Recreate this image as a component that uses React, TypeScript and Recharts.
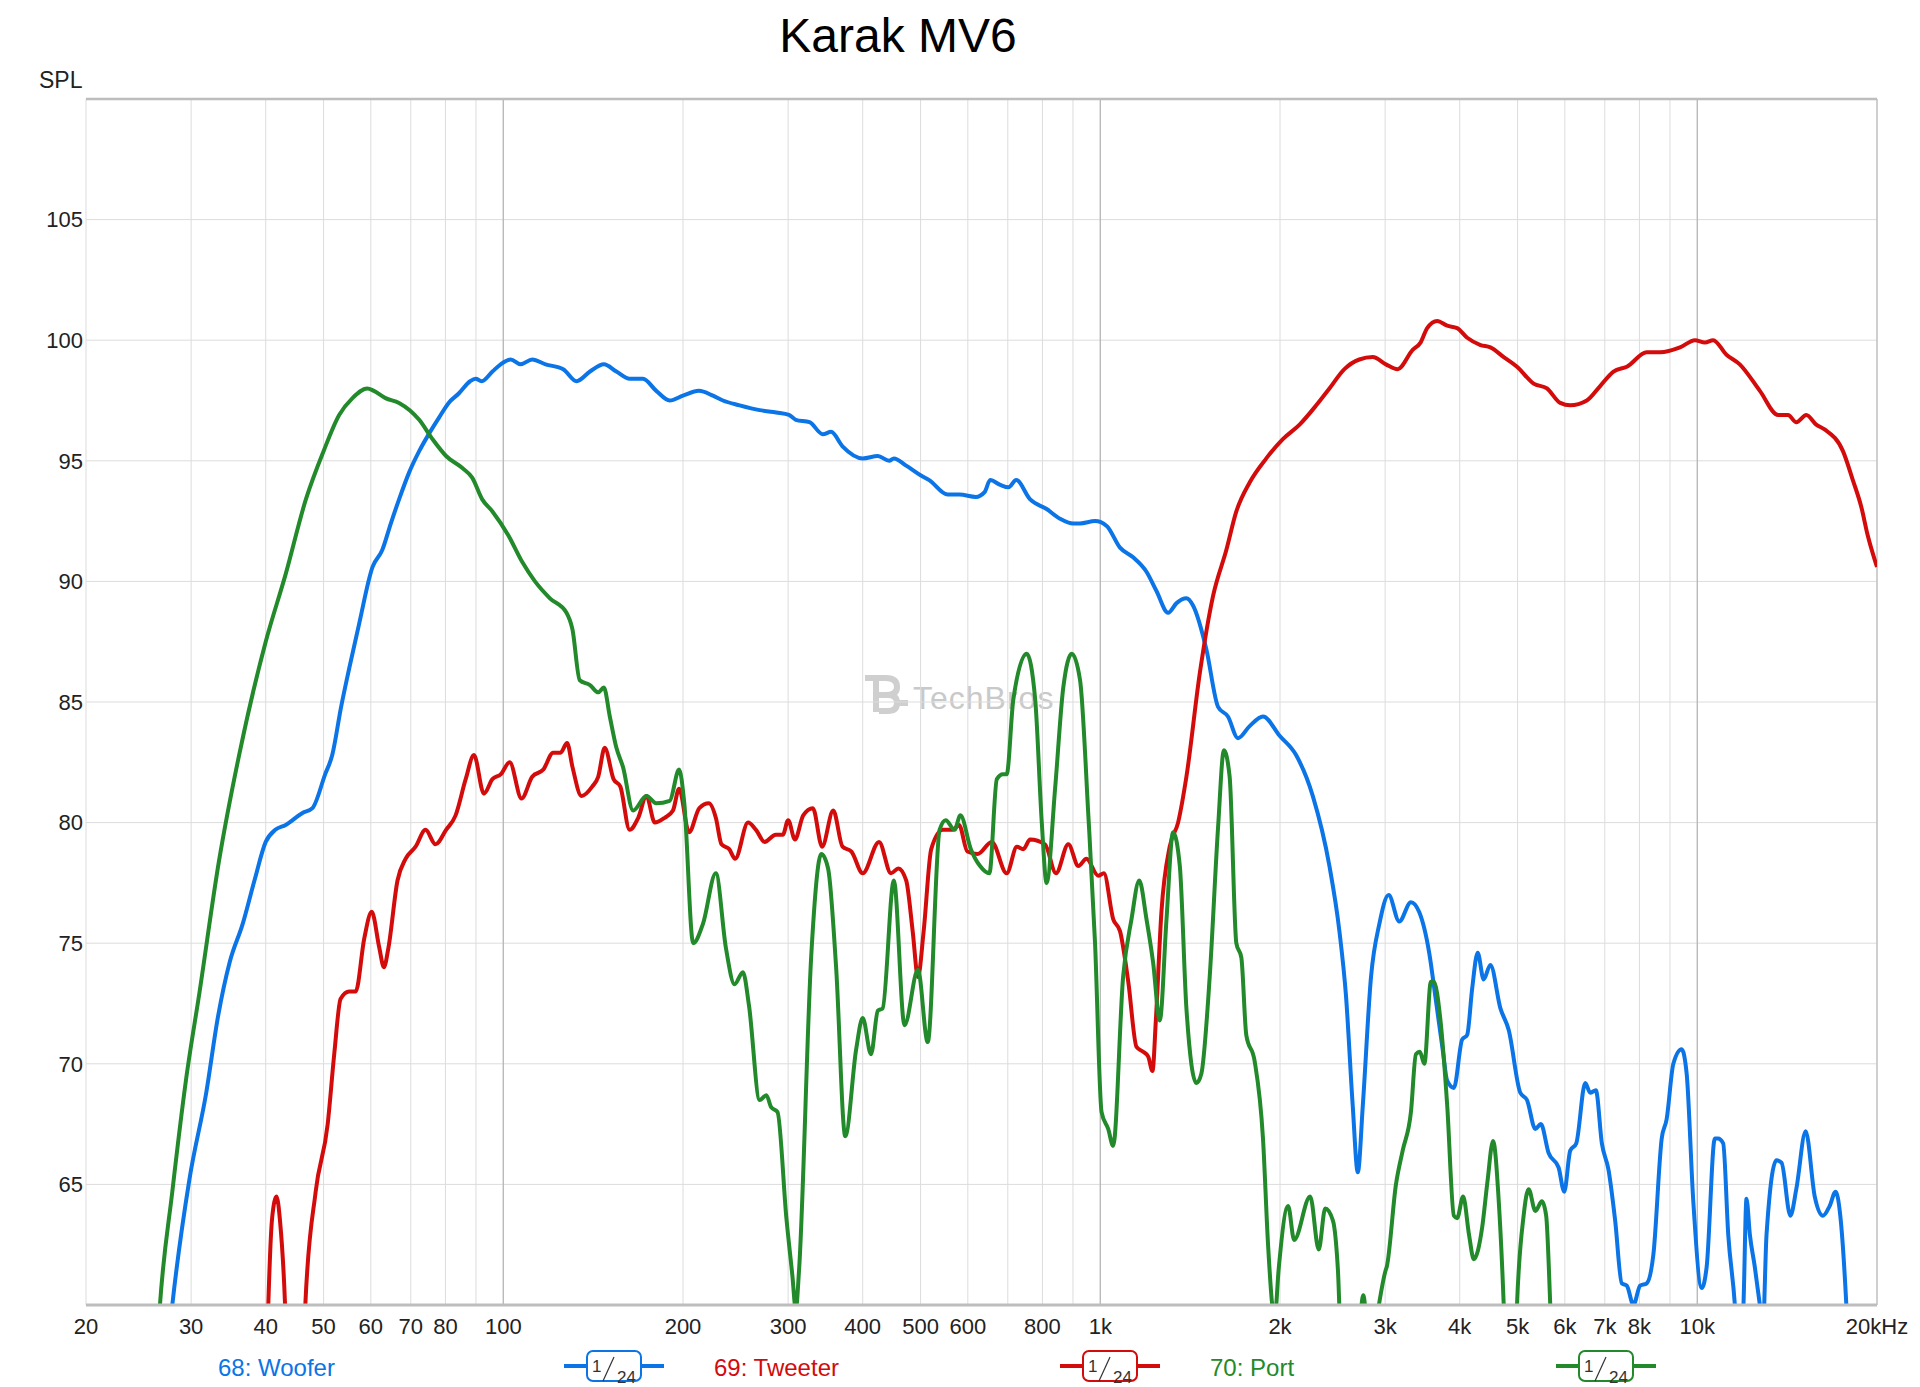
import { LineChart, Line, XAxis, YAxis, CartesianGrid, ReferenceLine } from 'recharts';

// frequency (Hz), SPL (dB)
const WOOFER: [number, number][] = [
  [26.9, 56], [27.9, 60], [29.8, 65.2], [31.8, 68.8], [33.3, 72.0], [34.8, 74.2], [36.6, 75.8], [38.3, 77.6],
  [40, 79.2], [41.5, 79.7], [43.2, 79.9], [46.1, 80.4], [47.9, 80.6], [50.3, 82.0], [51.7, 82.8], [53.5, 84.8],
  [55.2, 86.4], [57.3, 88.2], [60.4, 90.6], [62.7, 91.3], [64.8, 92.4], [66.9, 93.4], [69.5, 94.5], [72.3, 95.4],
  [75, 96.1], [78.1, 96.8], [81, 97.4], [84.3, 97.8], [88, 98.3], [89.9, 98.4], [92, 98.3], [95.9, 98.7],
  [99, 99.0], [102.9, 99.2], [106.9, 99.0], [111.8, 99.2], [117.7, 99.0], [126, 98.8], [132.7, 98.3],
  [139.7, 98.7], [147.4, 99.0], [154.7, 98.7], [162.8, 98.4], [171.4, 98.4], [180.4, 97.9], [190, 97.5],
  [200, 97.7], [212.7, 97.9], [224.5, 97.7], [233.3, 97.5], [248.8, 97.3], [268.8, 97.1], [286.6, 97.0],
  [301, 96.9], [309, 96.7], [325.8, 96.6], [343, 96.1], [354, 96.2], [370, 95.6], [400, 95.1], [424, 95.2],
  [443, 95.0], [451, 95.1], [473, 94.8], [500, 94.4], [517, 94.2], [555, 93.6], [581, 93.6], [619, 93.5],
  [640, 93.7], [654, 94.2], [680, 94.0], [702, 93.9], [723, 94.2], [763, 93.4], [813, 93.0], [856, 92.6],
  [901, 92.4], [925, 92.4], [980, 92.5], [1025, 92.3], [1079, 91.4], [1135, 91.0], [1195, 90.4], [1242, 89.6],
  [1299, 88.7], [1342, 89.1], [1394, 89.3], [1430, 89.0], [1505, 87.2], [1575, 84.8], [1636, 84.4],
  [1701, 83.5], [1779, 84.0], [1873, 84.4], [1997, 83.6], [2128, 82.8], [2270, 81.1], [2420, 78.2],
  [2515, 75.5], [2580, 72.8], [2647, 68.3], [2700, 65.5], [2753, 68.3], [2841, 73.6], [2934, 75.8],
  [3041, 77.0], [3168, 75.9], [3314, 76.7], [3420, 76.3], [3556, 74.6], [3650, 72.6], [3750, 70.5],
  [3811, 69.3], [3911, 69.0], [4037, 71.0], [4117, 71.2], [4196, 73.1], [4287, 74.6], [4387, 73.5],
  [4502, 74.1], [4680, 72.3], [4832, 71.4], [5053, 68.8], [5185, 68.5], [5355, 67.3], [5470, 67.5],
  [5636, 66.3], [5857, 65.7], [5986, 64.7], [6126, 66.4], [6270, 66.7], [6491, 69.2], [6617, 68.8],
  [6763, 68.9], [6921, 66.7], [7101, 65.6], [7285, 63.5], [7472, 60.9], [7621, 60.8], [7817, 60.0],
  [8021, 60.8], [8229, 60.9], [8443, 62.1], [8718, 66.9], [8885, 67.7], [9118, 70.0], [9415, 70.6],
  [9598, 69.6], [9847, 64.3], [10170, 60.7], [10370, 61.6], [10700, 66.9], [10830, 66.9], [11050, 66.7],
  [11270, 62.9], [11560, 60], [11750, 57], [11950, 60], [12090, 64.4], [12250, 62.9], [12480, 61.6],
  [12730, 60], [12880, 59], [13060, 62.9], [13570, 66.0], [13840, 65.9], [14320, 63.7], [14650, 64.8],
  [15190, 67.2], [15730, 64.5], [16240, 63.7], [16660, 64.1], [17050, 64.7], [17360, 63.7], [17770, 60],
  [18000, 57],
];

const TWEETER: [number, number][] = [
  [40.0, 56], [40.4, 60], [41.0, 63.6], [41.7, 64.5], [42.3, 63.4], [43.1, 60], [43.6, 56], [46.2, 56],
  [46.6, 60], [48.5, 64.7], [50.8, 67.5], [52.1, 70.4], [53.4, 72.7], [55.2, 73.0], [56.6, 73.0], [58.5, 75.2],
  [60.2, 76.3], [62, 74.8], [63.1, 74.0], [64.2, 74.8], [66.5, 77.6], [68.6, 78.5], [71.3, 79.0], [74.1, 79.7],
  [77.0, 79.1], [80.2, 79.7], [83.2, 80.3], [86.5, 81.8], [89.3, 82.8], [92.8, 81.2], [95.9, 81.8], [99, 82.0],
  [102.5, 82.5], [107.3, 81.0], [111.8, 81.9], [116.7, 82.2], [121.2, 82.9], [124.7, 82.9], [127.9, 83.3],
  [130.6, 82.3], [135.2, 81.1], [141, 81.5], [144.2, 81.9], [147.9, 83.1], [153, 81.8], [157, 81.5],
  [162.8, 79.7], [168.3, 80.2], [173.7, 81.1], [179.4, 80.0], [186.4, 80.2], [192.4, 80.5], [197, 81.4],
  [204.7, 79.6], [213, 80.6], [221, 80.8], [227, 80.2], [232, 79.1], [239, 78.9], [244.6, 78.5], [257, 80.0],
  [265, 79.7], [274, 79.2], [286, 79.5], [294, 79.5], [300, 80.1], [308, 79.3], [318, 80.3], [330, 80.6],
  [342, 79.0], [357, 80.5], [370, 79.0], [383, 78.8], [400, 77.9], [426, 79.2], [446, 77.9], [459, 78.1],
  [473, 77.6], [485, 75.5], [495, 73.6], [506, 75.5], [521, 78.9], [545, 79.7], [566, 79.7], [580, 79.9],
  [599, 78.8], [623, 78.7], [658, 79.2], [697, 77.9], [725, 79.0], [743, 78.9], [763, 79.3], [808, 79.1],
  [843, 77.9], [884, 79.1], [919, 78.2], [948, 78.5], [992, 77.8], [1014, 77.9], [1051, 76.0], [1079, 75.5],
  [1114, 73.4], [1150, 70.7], [1180, 70.5], [1203, 70.3], [1223, 69.7], [1239, 71.8], [1266, 76.3],
  [1307, 79.0], [1350, 80.0], [1394, 81.9], [1468, 86.2], [1545, 89.4], [1626, 91.3], [1690, 92.9],
  [1779, 94.1], [1897, 95.1], [2022, 95.9], [2157, 96.5], [2300, 97.3], [2420, 98.0], [2564, 98.8],
  [2716, 99.2], [2860, 99.3], [3009, 99.0], [3148, 98.8], [3336, 99.6], [3439, 99.9], [3528, 100.5],
  [3667, 100.8], [3811, 100.6], [3960, 100.5], [4117, 100.1], [4334, 99.8], [4502, 99.7], [4740, 99.3],
  [4989, 98.9], [5320, 98.2], [5600, 98.0], [5895, 97.4], [6126, 97.3], [6531, 97.5], [6876, 98.1],
  [7239, 98.7], [7621, 98.9], [8229, 99.5], [8662, 99.5], [9355, 99.7], [9911, 100.0], [10299, 99.9],
  [10630, 100.0], [11190, 99.4], [11780, 99.0], [12730, 97.9], [13660, 96.9], [14190, 96.9], [14650, 96.6],
  [15230, 96.9], [15820, 96.5], [16340, 96.3], [17540, 95.4], [18220, 94.2], [18820, 93.1], [19300, 91.9],
  [19880, 90.8], [20000, 90.6],
];

const PORT: [number, number][] = [
  [26.0, 56], [26.6, 60], [27.9, 64.7], [29.4, 69.3], [31.0, 73.0], [33.4, 78.4], [36.1, 82.8], [40, 87.5],
  [43.2, 90.3], [46.7, 93.4], [50, 95.4], [53.1, 96.9], [55.9, 97.6], [59.2, 98.0], [60.7, 97.9], [63.5, 97.6],
  [66.9, 97.4], [72.3, 96.7], [76.1, 95.9], [80.2, 95.2], [85.4, 94.7], [88.7, 94.3], [92.2, 93.4],
  [95.9, 92.9], [102, 91.9], [107.6, 90.8], [113, 90.0], [119.7, 89.3], [127.6, 88.7], [130.6, 88.0],
  [134.3, 85.9], [139.7, 85.7], [144.2, 85.4], [147.4, 85.6], [150.8, 84.4], [154.7, 83.1], [158.7, 82.3],
  [165, 80.5], [173.7, 81.1], [180.4, 80.8], [190, 80.9], [197, 82.2], [201, 80.8], [208, 75.0], [216, 75.8],
  [227, 77.9], [236, 74.8], [244, 73.3], [252, 73.8], [258, 72.4], [268.8, 68.5], [275.8, 68.7], [281, 68.2],
  [288, 68.0], [298, 63.6], [305, 61.2], [309, 59.8], [313, 61.5], [328, 74.5], [341, 78.7], [350, 78.1],
  [361, 74.0], [374, 67.0], [390, 70.6], [400, 71.9], [413, 70.4], [424, 72.2], [432, 72.3], [451, 77.6],
  [470, 71.6], [495, 73.9], [514, 70.9], [538, 79.7], [551, 80.1], [570, 79.7], [583, 80.3], [607, 78.9],
  [629, 78.2], [652, 77.9], [671, 81.8], [687, 82.0], [697, 82.0], [715, 85.1], [753, 87.0], [778, 85.1],
  [798, 80.0], [813, 77.5], [840, 81.4], [867, 85.6], [896, 87.0], [925, 85.9], [955, 80.3], [980, 75.0],
  [1005, 68.0], [1031, 67.3], [1051, 66.6], [1092, 73.6], [1128, 76.0], [1162, 77.6], [1195, 76.0],
  [1226, 74.2], [1258, 71.8], [1291, 76.0], [1324, 79.6], [1359, 78.2], [1394, 72.3], [1449, 69.2],
  [1477, 69.6], [1525, 73.6], [1575, 79.8], [1611, 83.0], [1647, 81.9], [1690, 75.0], [1723, 74.4],
  [1756, 71.2], [1814, 70.1], [1873, 66.9], [1910, 62.5], [1945, 59.8], [1960, 59.5], [1990, 61.5],
  [2064, 64.1], [2112, 62.7], [2247, 64.5], [2322, 62.3], [2381, 64.0], [2453, 63.5], [2500, 61.5],
  [2545, 57], [2680, 57.5], [2758, 60.4], [2830, 57.5], [2911, 59.6], [3003, 61.4], [3020, 61.6],
  [3128, 65.0], [3210, 66.4], [3314, 68.0], [3378, 70.4], [3430, 70.5], [3490, 70.0], [3579, 73.4],
  [3620, 73.4], [3714, 71.8], [3811, 68.3], [3911, 63.7], [3960, 63.6], [4053, 64.5], [4147, 62.9],
  [4223, 61.9], [4361, 63.2], [4451, 65.1], [4549, 66.8], [4650, 64.3], [4740, 60], [4800, 56], [4930, 56],
  [4989, 60], [5118, 63.7], [5218, 64.8], [5355, 63.9], [5493, 64.3], [5583, 63.7], [5672, 60], [5750, 56],
];

const X_TICKS = [
  20, 30, 40, 50, 60, 70, 80, 90, 100, 200, 300, 400, 500, 600, 700, 800, 900, 1000,
  2000, 3000, 4000, 5000, 6000, 7000, 8000, 9000, 10000, 20000,
];
const X_LABELS: Record<number, string> = {
  20: '20', 30: '30', 40: '40', 50: '50', 60: '60', 70: '70', 80: '80', 100: '100',
  200: '200', 300: '300', 400: '400', 500: '500', 600: '600', 800: '800', 1000: '1k',
  2000: '2k', 3000: '3k', 4000: '4k', 5000: '5k', 6000: '6k', 7000: '7k', 8000: '8k',
  10000: '10k', 20000: '20kHz',
};
const Y_TICKS = [60, 65, 70, 75, 80, 85, 90, 95, 100, 105, 110];
const DECADES = [100, 1000, 10000];

const SERIES = [
  { name: '68: Woofer', color: '#0b74e6', data: WOOFER },
  { name: '69: Tweeter', color: '#d30b0b', data: TWEETER },
  { name: '70: Port', color: '#228a2a', data: PORT },
];

const FONT = '"Liberation Sans", Arial, Helvetica, sans-serif';
const toRows = (pts: [number, number][]) => pts.map(([f, db]) => ({ f, db }));

const SmoothingBadge = ({ cx, color }: { cx: number; color: string }) => (
  <g>
    <line x1={cx - 50} x2={cx + 50} y1={1366} y2={1366} stroke={color} strokeWidth={4} />
    <rect x={cx - 27} y={1351} width={54} height={30} rx={6} fill="#fff" stroke={color} strokeWidth={2} />
    <text x={cx - 22} y={1372} fontSize={17} fill="#333">1</text>
    <line x1={cx - 11} y1={1381} x2={cx} y2={1357} stroke="#333" strokeWidth={1.2} />
    <text x={cx + 3} y={1383} fontSize={17} fill="#333">24</text>
  </g>
);

export default function App() {
  return (
    <div style={{ position: 'relative', width: 1920, height: 1387, background: '#fff', fontFamily: FONT }}>
      <style>{'body{margin:0}'}</style>
      {/* watermark behind the curves */}
      <svg width={1920} height={1387} style={{ position: 'absolute', left: 0, top: 0 }}>
        <g fill="none" stroke="#cfcfcf" strokeWidth={6}>
          <path d="M865,678 H886 Q897,678 897,687 Q897,695 886,695 H879" />
          <path d="M876,678 V712" />
          <path d="M879,695 H888 Q897,695 897,703 Q897,711 888,711 H879" />
          <path d="M897,703 H908" />
        </g>
        <text x={913} y={709} fontSize={32} fill="#c9c9c9" letterSpacing={1} fontFamily={FONT}>TechBros</text>
      </svg>
      <div style={{ position: 'absolute', left: 0, top: 0 }}>
        <LineChart width={1920} height={1387} margin={{ top: 99, right: 43, bottom: 0, left: 0 }}>
          <CartesianGrid stroke="#dcdcdc" strokeWidth={1} />
          <XAxis
            dataKey="f"
            type="number"
            scale="log"
            domain={[20, 20000]}
            ticks={X_TICKS}
            interval={0}
            allowDataOverflow
            height={82}
            axisLine={false}
            tickLine={false}
            tickSize={0}
            tickMargin={13}
            tickFormatter={(v: number) => X_LABELS[v] ?? ''}
            tick={{ fontSize: 22, fill: '#222', fontFamily: FONT }}
          />
          <YAxis
            type="number"
            domain={[60, 110]}
            ticks={Y_TICKS}
            interval={0}
            allowDataOverflow
            width={86}
            axisLine={false}
            tickLine={false}
            tickSize={0}
            tickMargin={3}
            tickFormatter={(v: number) => (v === 60 || v === 110 ? '' : String(v))}
            tick={{ fontSize: 22, fill: '#222', fontFamily: FONT }}
          />
          {DECADES.map((d) => (
            <ReferenceLine key={d} x={d} stroke="#b5b5b5" strokeWidth={1.2} />
          ))}
          <ReferenceLine x={20000} stroke="#c4c4c4" strokeWidth={1.5} />
          <ReferenceLine y={110} stroke="#bdbdbd" strokeWidth={2.5} />
          {SERIES.map((s) => (
            <Line
              key={s.name}
              data={toRows(s.data)}
              dataKey="db"
              type="monotone"
              stroke={s.color}
              strokeWidth={4}
              dot={false}
              activeDot={false}
              isAnimationActive={false}
            />
          ))}
          <ReferenceLine y={60} stroke="#bdbdbd" strokeWidth={3} />
        </LineChart>
      </div>
      {/* title, axis caption and legend */}
      <svg width={1920} height={1387} style={{ position: 'absolute', left: 0, top: 0, pointerEvents: 'none' }} fontFamily={FONT}>
        <text x={898} y={52} fontSize={48} textAnchor="middle" fill="#000">Karak MV6</text>
        <text x={39} y={88} fontSize={23} fill="#222">SPL</text>
        {SERIES.map((s, i) => (
          <g key={s.name}>
            <text x={218 + i * 496} y={1376} fontSize={24} fill={s.color}>{s.name}</text>
            <SmoothingBadge cx={614 + i * 496} color={s.color} />
          </g>
        ))}
      </svg>
    </div>
  );
}
